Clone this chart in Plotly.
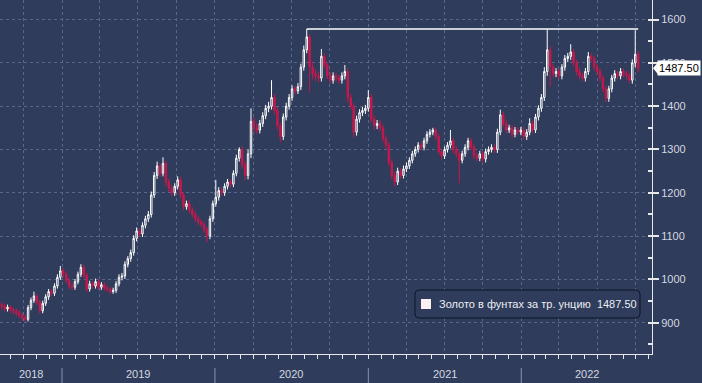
import pandas as pd
import plotly.graph_objects as go

# ---------------- data (weekly, GBP per troy ounce) ----------------
start_date = "2018-08-03"
first_open = 945
closes = [942,938,932,936,930,927,922,918,912,908,
          935,952,962,948,928,945,960,972,968,985,
          1005,1020,1012,998,985,982,995,1012,1028,1010,
          978,990,985,995,982,988,980,978,972,975,
          990,1005,1008,1035,1048,1062,1095,1112,1105,1125,
          1140,1150,1195,1240,1262,1245,1268,1225,1210,1200,
          1215,1230,1195,1168,1175,1160,1150,1140,1132,1128,
          1115,1100,1140,1175,1190,1205,1200,1215,1225,1220,
          1245,1280,1300,1265,1240,1290,1365,1350,1345,1360,
          1378,1395,1400,1420,1390,1355,1330,1375,1400,1420,
          1440,1435,1445,1490,1530,1560,1490,1475,1470,1465,
          1515,1495,1470,1460,1470,1465,1460,1470,1480,1420,
          1400,1340,1370,1385,1390,1395,1420,1370,1355,1360,
          1350,1325,1310,1270,1240,1225,1250,1240,1255,1262,
          1275,1290,1300,1310,1305,1320,1335,1340,1345,1330,
          1295,1285,1300,1310,1320,1300,1290,1275,1290,1305,
          1320,1305,1285,1280,1290,1278,1295,1300,1305,1300,
          1340,1380,1360,1345,1350,1335,1345,1340,1345,1330,
          1340,1360,1345,1375,1395,1420,1480,1530,1490,1475,
          1480,1470,1490,1510,1515,1525,1500,1480,1470,1465,
          1480,1515,1510,1490,1480,1465,1440,1418,1440,1465,
          1475,1470,1480,1475,1470,1460,1500,1520,1487.5]
highs = [952,948,944,942,941,936,933,929,925,918,
         941,958,972,967,953,951,966,978,978,991,
         1012,1031,1026,1018,1004,991,1001,1018,1035,1034,
         1015,997,996,1002,1001,994,994,986,983,981,
         996,1012,1015,1042,1054,1069,1102,1120,1118,1132,
         1147,1158,1203,1248,1272,1268,1282,1274,1232,1218,
         1222,1238,1236,1202,1182,1182,1167,1157,1147,1139,
         1134,1121,1147,1182,1230,1213,1212,1222,1232,1231,
         1252,1288,1305,1307,1273,1300,1395,1374,1360,1368,
         1386,1403,1410,1460,1428,1398,1362,1383,1408,1428,
         1448,1447,1453,1498,1540,1578,1566,1502,1485,1480,
         1532,1522,1502,1478,1478,1477,1472,1478,1495,1487,
         1428,1407,1378,1393,1398,1403,1437,1428,1378,1368,
         1368,1357,1333,1317,1278,1248,1258,1257,1263,1270,
         1282,1297,1307,1317,1317,1327,1342,1347,1350,1351,
         1337,1302,1307,1317,1345,1327,1307,1297,1297,1312,
         1327,1327,1312,1292,1297,1297,1302,1307,1312,1312,
         1348,1392,1387,1368,1357,1357,1352,1352,1352,1352,
         1347,1372,1367,1382,1402,1428,1490,1577,1538,1498,
         1488,1487,1497,1518,1523,1543,1532,1507,1488,1477,
         1488,1525,1522,1517,1497,1487,1472,1447,1447,1472,
         1483,1482,1488,1487,1482,1477,1508,1575,1528]
lows = [935,931,925,926,923,920,915,911,905,902,
        903,929,946,941,921,922,939,953,961,962,
        979,999,1005,991,978,975,976,989,1006,1003,
        971,972,979,979,976,976,974,971,966,967,
        969,984,998,1001,1028,1041,1055,1088,1097,1098,
        1118,1133,1143,1188,1232,1236,1238,1216,1202,1192,
        1193,1208,1187,1160,1161,1153,1143,1133,1125,1120,
        1108,1086,1093,1133,1168,1182,1193,1193,1208,1212,
        1213,1238,1272,1256,1229,1231,1280,1338,1336,1337,
        1352,1370,1386,1392,1381,1346,1317,1322,1367,1392,
        1412,1427,1428,1437,1482,1522,1432,1462,1458,1455,
        1457,1487,1462,1452,1452,1457,1452,1452,1462,1410,
        1392,1328,1332,1362,1377,1382,1387,1362,1346,1347,
        1342,1317,1302,1262,1232,1215,1218,1233,1233,1248,
        1255,1268,1283,1293,1298,1298,1313,1328,1333,1322,
        1288,1277,1278,1293,1303,1292,1282,1222,1268,1283,
        1298,1298,1278,1272,1273,1268,1270,1288,1293,1292,
        1292,1333,1352,1337,1338,1327,1328,1333,1333,1322,
        1322,1333,1337,1338,1367,1387,1412,1470,1444,1466,
        1467,1462,1462,1482,1502,1507,1492,1472,1462,1457,
        1457,1472,1502,1482,1472,1457,1432,1409,1410,1432,
        1457,1462,1462,1467,1462,1453,1452,1490,1478]
last_price = 1487.50
series_name = "Золото в фунтах за тр. унцию"
y_ticks = [900, 1000, 1100, 1200, 1300, 1400, 1500, 1600]
year_labels = ["2018", "2019", "2020", "2021", "2022"]
year_label_pos = ["2018-10-19", "2019-07-02", "2020-07-01", "2021-07-02", "2022-06-06"]
year_starts = ["2019-01-01", "2020-01-01", "2021-01-01", "2022-01-01"]

dates = pd.date_range(start_date, periods=len(closes), freq="7D")
opens = [first_open] + closes[:-1]

# ---------------- style ----------------
BG = "#2f3c5b"
RED = "#c8184c"
GRID = "#58688c"
TXT = "#d4d8e0"
FONT = "Liberation Sans, Arial, sans-serif"
PW, PH = 652, 354  # plot area in px

fig = go.Figure()
fig.add_trace(go.Candlestick(
    x=dates, open=opens, high=highs, low=lows, close=closes,
    increasing=dict(line=dict(color="#ffffff", width=1), fillcolor=BG),
    decreasing=dict(line=dict(color=RED, width=1), fillcolor=RED),
    whiskerwidth=0, showlegend=False, hoverinfo="skip",
))

shapes = []
# max line from peak to last candle
imax = highs.index(max(highs))
shapes.append(dict(type="line", xref="x", yref="y", x0=dates[imax], x1=dates[-1],
                   y0=max(highs), y1=max(highs), line=dict(color="#ffffff", width=1.5)))
# year separators
for ys in year_starts:
    shapes.append(dict(type="line", xref="x", yref="paper", x0=ys, x1=ys,
                       y0=-14 / PH, y1=-29 / PH, line=dict(color="#8a93a8", width=1)))
# legend box (rounded)
bx0, bx1, by0, by1 = 415 / PW, 640 / PW, 1 - 318 / PH, 1 - 290 / PH
rx, ry = 4 / PW, 4 / PH
path = (f"M {bx0+rx},{by0} L {bx1-rx},{by0} Q {bx1},{by0} {bx1},{by0+ry} "
        f"L {bx1},{by1-ry} Q {bx1},{by1} {bx1-rx},{by1} L {bx0+rx},{by1} "
        f"Q {bx0},{by1} {bx0},{by1-ry} L {bx0},{by0+ry} Q {bx0},{by0} {bx0+rx},{by0} Z")
shapes.append(dict(type="path", xref="paper", yref="paper", path=path,
                   fillcolor=BG, line=dict(color="#10152a", width=1)))
shapes.append(dict(type="rect", xref="paper", yref="paper",
                   x0=421 / PW, x1=431 / PW, y0=1 - 309 / PH, y1=1 - 299 / PH,
                   fillcolor="#fdf2f2", line=dict(width=0)))
# price label pointer
shapes.append(dict(type="path", xref="paper", yref="y",
                   path=f"M {653/PW},{last_price} L {658/PW},{last_price+14} L {658/PW},{last_price-14} Z",
                   fillcolor="#ffffff", line=dict(width=0)))

annotations = []
for lbl, pos in zip(year_labels, year_label_pos):
    annotations.append(dict(x=pos, y=-20 / PH, xref="x", yref="paper", text=lbl,
                            showarrow=False, font=dict(color=TXT, size=11, family=FONT),
                            xanchor="center", yanchor="middle"))
annotations.append(dict(x=437 / PW, y=1 - 304 / PH, xref="paper", yref="paper",
                        text=f"{series_name}  {last_price:.2f}", showarrow=False,
                        xanchor="left", yanchor="middle",
                        font=dict(color="#eceef2", size=11, family=FONT)))
annotations.append(dict(x=657 / PW, y=last_price, xref="paper", yref="y",
                        text=f"{last_price:.2f}", showarrow=False, xanchor="left",
                        yanchor="middle", bgcolor="#ffffff", borderpad=1,
                        font=dict(color="#000000", size=11, family=FONT)))

fig.update_layout(
    width=702, height=383,
    margin=dict(l=0, r=50, t=0, b=29, autoexpand=False),
    paper_bgcolor=BG, plot_bgcolor=BG,
    font=dict(family=FONT, color=TXT, size=11),
    shapes=shapes, annotations=annotations,
    showlegend=False,
)
fig.update_xaxes(
    type="date", range=["2018-08-06", "2022-11-09"],
    rangeslider=dict(visible=False),
    showline=True, linecolor="#e8e8e8", linewidth=1, mirror=False,
    tick0="2018-01-01", dtick="M3", ticks="outside", ticklen=4, tickcolor="#e8e8e8",
    showticklabels=False,
    showgrid=True, gridcolor=GRID, griddash="dot", gridwidth=1,
    minor=dict(tick0="2018-01-01", dtick="M1", ticks="outside", ticklen=4,
               tickcolor="#e8e8e8", showgrid=False),
    zeroline=False, fixedrange=True,
)
fig.update_yaxes(
    side="right", range=[828, 1645],
    tickvals=y_ticks, ticktext=[str(v) for v in y_ticks],
    showline=True, linecolor="#e8e8e8", linewidth=1,
    ticks="outside", ticklen=6, tickcolor="#e8e8e8", tickwidth=2,
    tickfont=dict(color=TXT, size=11, family=FONT),
    showgrid=True, gridcolor=GRID, griddash="dot", gridwidth=1,
    minor=dict(dtick=50, tick0=850, ticks="inside", ticklen=4, tickcolor="#e8e8e8", showgrid=False),
    zeroline=False, fixedrange=True,
)

fig.write_html("out.html", config={"displayModeBar": False},
               post_script="document.body.style.margin='0px';document.body.style.padding='0px';document.body.style.background='%s';" % BG)
